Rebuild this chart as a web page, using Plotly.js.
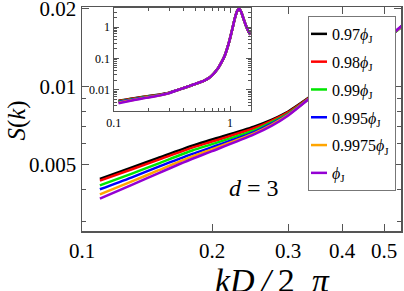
<!DOCTYPE html>
<html>
<head>
<meta charset="utf-8">
<script src="https://cdn.plot.ly/plotly-3.0.1.min.js"></script>
<style>
  html, body { margin: 0; padding: 0; background: #fff; }
  #chart { width: 404px; height: 291px; }
</style>
</head>
<body>
<div id="chart"></div>
<script>
// ---- data ----
const kMain = [0.11, 0.13, 0.15, 0.18, 0.2, 0.25, 0.275, 0.3, 0.35, 0.4, 0.45, 0.5, 0.55];
const s097   = [0.00440, 0.00486, 0.00530, 0.00591, 0.00624, 0.00700, 0.00745, 0.00801, 0.00955, 0.01125, 0.01308, 0.01500, 0.01710];
const s098   = [0.00433, 0.00478, 0.00521, 0.00581, 0.00613, 0.00690, 0.00738, 0.00796, 0.00953, 0.01124, 0.01308, 0.01500, 0.01710];
const s099   = [0.00415, 0.00460, 0.00504, 0.00566, 0.00599, 0.00677, 0.00729, 0.00787, 0.00950, 0.01122, 0.01306, 0.01498, 0.01705];
const s0995  = [0.00401, 0.00445, 0.00489, 0.00549, 0.00583, 0.00666, 0.00720, 0.00781, 0.00950, 0.01123, 0.01308, 0.01500, 0.01712];
const s09975 = [0.00383, 0.00429, 0.00474, 0.00537, 0.00573, 0.00659, 0.00712, 0.00777, 0.00950, 0.01123, 0.01308, 0.01502, 0.01714];
const sJ     = [0.00369, 0.00416, 0.00462, 0.00526, 0.00563, 0.00653, 0.00706, 0.00773, 0.00951, 0.01125, 0.01310, 0.01504, 0.01718];

// inset: common high-k part of S(k) (all packings coincide there)
const kTail = [0.6, 0.65, 0.7, 0.75, 0.8, 0.85, 0.9, 0.95, 1.0, 1.05, 1.1, 1.15, 1.2, 1.25, 1.3, 1.35, 1.4, 1.45, 1.5];
const sTail = [0.0195, 0.0228, 0.0285, 0.0380, 0.0525, 0.0780, 0.121, 0.218, 0.434, 0.914, 1.90, 3.2, 3.85, 2.95, 1.93, 1.29, 0.915, 0.69, 0.57];

const names  = ['0.97', '0.98', '0.99', '0.995', '0.9975', ''];
const series = [s097, s098, s099, s0995, s09975, sJ];
const colors = ['#000000', '#ff0000', '#00e600', '#0000ff', '#ffa500', '#9400d3'];

// tick labels
const xMainTicks = [0.1, 0.2, 0.3, 0.4, 0.5];
const xMainText  = ['0.1', '0.2', '0.3', '0.4', '0.5'];
const yMainTicks = [0.005, 0.01, 0.02];
const yMainText  = ['0.005', '0.01', '0.02'];
const yMainMinor = [0.003, 0.004, 0.006, 0.007, 0.008, 0.009];
const xInTicks = [0.1, 1];
const xInText  = ['0.1', '1'];
const xInMinor = [0.2, 0.3, 0.4, 0.5, 0.6, 0.7, 0.8, 0.9];
const yInTicks = [0.01, 0.1, 1];
const yInText  = ['0.01', '0.1', '1'];
const yInMinor = [0.003, 0.004, 0.005, 0.006, 0.007, 0.008, 0.009,
                  0.02, 0.03, 0.04, 0.05, 0.06, 0.07, 0.08, 0.09,
                  0.2, 0.3, 0.4, 0.5, 0.6, 0.7, 0.8, 0.9, 2, 3];

// ---- traces ----
const FONT = 'Liberation Serif';
const traces = [];
series.forEach((s, i) => {
  traces.push({
    x: kMain, y: s, type: 'scatter', mode: 'lines',
    name: names[i] + '<i>ϕ</i><sub>J</sub>',
    legendgroup: 'g' + i,
    line: { color: colors[i], width: 2.5, shape: 'spline', smoothing: 0.8 },
    xaxis: 'x', yaxis: 'y', hoverinfo: 'skip'
  });
});
series.forEach((s, i) => {
  traces.push({
    x: kMain.concat(kTail), y: s.concat(sTail), type: 'scatter', mode: 'lines',
    showlegend: false,
    line: { color: colors[i], width: 2.5, shape: 'spline', smoothing: 0.5 },
    xaxis: 'x2', yaxis: 'y2', hoverinfo: 'skip'
  });
});

const AX = '#555';
const layout = {
  width: 404, height: 291,
  margin: { l: 82, r: 3, t: 7, b: 60, pad: 0 },
  paper_bgcolor: '#fff', plot_bgcolor: '#fff',
  font: { family: FONT, color: '#000' },
  showlegend: true,
  legend: {
    x: 1, xanchor: 'right', y: 0.96, yanchor: 'top',
    bgcolor: '#fff', bordercolor: '#777', borderwidth: 1,
    font: { family: FONT, size: 16, color: '#000' },
    tracegroupgap: 4, traceorder: 'grouped'
  },
  xaxis: {
    type: 'log', range: [-1, Math.log10(0.547)],
    tickmode: 'array', tickvals: xMainTicks, ticktext: xMainText,
    ticks: 'inside', ticklen: 7, tickwidth: 1.2, tickcolor: AX,
    showline: true, linecolor: AX, linewidth: 1.5, mirror: 'ticks',
    showgrid: false, zeroline: false, ticklabeloverflow: 'allow',
    tickfont: { family: FONT, size: 21, color: '#000' },
    domain: [0, 1], anchor: 'y'
  },
  yaxis: {
    type: 'log', range: [-2.558, -1.693],
    tickmode: 'array', tickvals: yMainTicks, ticktext: yMainText,
    ticks: 'inside', ticklen: 7, tickwidth: 1.2, tickcolor: AX,
    minor: { tickmode: 'array', tickvals: yMainMinor, ticks: 'inside', ticklen: 4, tickwidth: 1, tickcolor: AX, showgrid: false },
    showline: true, linecolor: AX, linewidth: 1.5, mirror: 'ticks',
    showgrid: false, zeroline: false, ticklabeloverflow: 'allow',
    tickfont: { family: FONT, size: 21, color: '#000' },
    domain: [0, 1], anchor: 'x'
  },
  xaxis2: {
    type: 'log', range: [-1, 0.178],
    tickmode: 'array', tickvals: xInTicks, ticktext: xInText,
    ticks: 'inside', ticklen: 5, tickwidth: 1, tickcolor: AX,
    minor: { tickmode: 'array', tickvals: xInMinor, ticks: 'inside', ticklen: 3, tickwidth: 1, tickcolor: AX, showgrid: false },
    showline: true, linecolor: AX, linewidth: 1.2, mirror: 'ticks',
    showgrid: false, zeroline: false,
    tickfont: { family: FONT, size: 12, color: '#000' },
    domain: [0.0994, 0.529], anchor: 'y2'
  },
  yaxis2: {
    type: 'log', range: [-2.684, 0.607],
    tickmode: 'array', tickvals: yInTicks, ticktext: yInText,
    ticks: 'inside', ticklen: 5, tickwidth: 1, tickcolor: AX,
    minor: { tickmode: 'array', tickvals: yInMinor, ticks: 'inside', ticklen: 3, tickwidth: 1, tickcolor: AX, showgrid: false },
    showline: true, linecolor: AX, linewidth: 1.2, mirror: 'ticks',
    showgrid: false, zeroline: false,
    tickfont: { family: FONT, size: 12, color: '#000' },
    domain: [0.5357, 0.9955], anchor: 'x2'
  },
  annotations: [
    { text: '<i>kD</i>\u2009<i>/</i>\u20092\u2002<i>π</i>', xref: 'paper', yref: 'paper', x: 0.598, y: -0.222,
      xanchor: 'center', yanchor: 'middle', showarrow: false,
      font: { family: FONT, size: 34, color: '#000' } },
    { text: '<i>S</i>(<i>k</i>)', xref: 'paper', yref: 'paper', x: -0.205, y: 0.491,
      xanchor: 'center', yanchor: 'middle', showarrow: false, textangle: -90,
      font: { family: FONT, size: 25, color: '#000' } },
    { text: '<i>d</i> = 3', xref: 'paper', yref: 'paper', x: 0.54, y: 0.192,
      xanchor: 'center', yanchor: 'middle', showarrow: false,
      font: { family: FONT, size: 24, color: '#000' } }
  ]
};

Plotly.newPlot('chart', traces, layout, { staticPlot: true, displayModeBar: false }).then(gd => {
  // shorten the legend line samples and place the box as in the reference
  const leg = gd.querySelector('g.legend');
  if (!leg) return;
  const shift = 17;
  leg.querySelectorAll('path.js-line').forEach(p => p.setAttribute('d', 'M2,0h16'));
  leg.querySelectorAll('text.legendtext').forEach(t => {
    const x = parseFloat(t.getAttribute('x') || '0');
    t.setAttribute('x', x - shift);
    t.querySelectorAll('tspan[x]').forEach(ts => ts.setAttribute('x', parseFloat(ts.getAttribute('x')) - shift));
  });
  const bg = leg.querySelector('rect.bg');
  if (bg) bg.setAttribute('width', parseFloat(bg.getAttribute('width')) - shift);
  const fs = gd._fullLayout._size;
  leg.setAttribute('transform', 'translate(' + (fs.l + 0.7085 * fs.w) + ',' + (fs.t + (1 - 0.96) * fs.h) + ')');
});
</script>
</body>
</html>
